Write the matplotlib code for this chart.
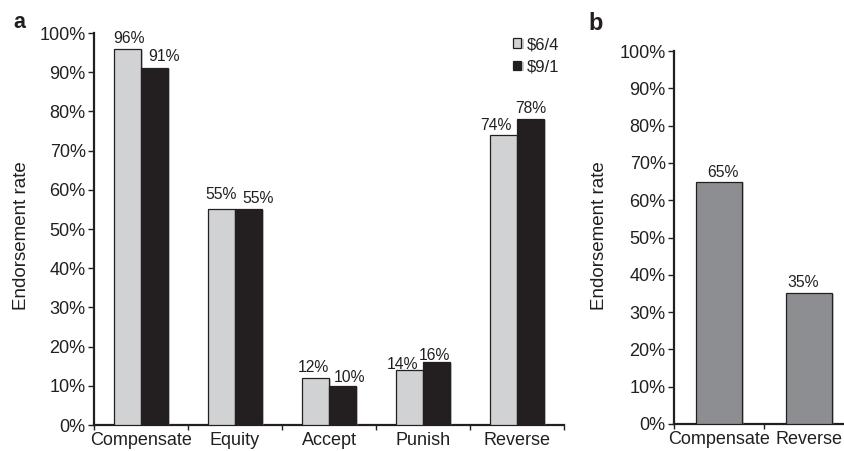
import matplotlib
matplotlib.use("Agg")
import matplotlib.pyplot as plt
import matplotlib.patheffects as pe
import numpy as np

plt.rcParams["font.family"] = ["Liberation Sans", "DejaVu Sans"]

# ---- data ----
strategies_a = ["Compensate", "Equity", "Accept", "Punish", "Reverse"]
split_64 = [96, 55, 12, 14, 74]   # $6/4 condition
split_91 = [91, 55, 10, 16, 78]   # $9/1 condition
series_names = ["$6/4", "$9/1"]

strategies_b = ["Compensate", "Reverse"]
forced_choice = [65, 35]

y_ticks = [0, 10, 20, 30, 40, 50, 60, 70, 80, 90, 100]
y_ticklabels = [f"{t}%" for t in y_ticks]

# ---- styling ----
INK = "#231f20"
LIGHT = "#d1d2d4"
DARK = "#231f20"
MID = "#8d8e91"

W, H = 845, 451
fig = plt.figure(figsize=(W / 100, H / 100), dpi=100)


def px_axes(left, top, right, bottom):
    return fig.add_axes([left / W, (H - bottom) / H, (right - left) / W, (bottom - top) / H])


shadow = [pe.SimplePatchShadow(offset=(1.6, -0.6), shadow_rgbFace="0.55", alpha=0.45), pe.Normal()]


def style_axes(ax, n_cat):
    for side in ("top", "right"):
        ax.spines[side].set_visible(False)
    for side in ("left", "bottom"):
        ax.spines[side].set_linewidth(1.6)
        ax.spines[side].set_color(INK)
    ax.set_ylim(0, 100)
    ax.set_xlim(-0.5, n_cat - 0.5)
    ax.set_yticks(y_ticks)
    ax.set_yticklabels(y_ticklabels)
    ax.tick_params(axis="y", direction="out", length=4.5, width=1.0, pad=1.5,
                   labelsize=13, colors=INK)
    ax.set_xticks(np.arange(n_cat))
    ax.set_xticklabels([])
    ax.tick_params(axis="x", which="major", length=0, pad=5, labelsize=13, colors=INK)
    ax.set_xticks(np.arange(n_cat + 1) - 0.5, minor=True)
    ax.tick_params(axis="x", which="minor", direction="out", length=3.5, width=1.0, colors=INK)
    ax.set_ylabel("")


def value_label(ax, x, h, text, dx, dy):
    ax.annotate(text, xy=(x, h), xytext=(dx * 0.72, dy * 0.72), textcoords="offset points",
                ha="center", va="baseline", fontsize=11.3, color=INK)


# ---- panel a ----
ax_a = px_axes(94, 33, 564, 425)
style_axes(ax_a, len(strategies_a))
ax_a.set_xticks(np.arange(len(strategies_a)))
ax_a.set_xticklabels(strategies_a)

x = np.arange(len(strategies_a))
bw = 0.287
bars_l = ax_a.bar(x - bw / 2, split_64, width=bw, color=LIGHT, edgecolor=INK, linewidth=0.9,
                  label=series_names[0].replace("$", r"\$"), zorder=3)
bars_d = ax_a.bar(x + bw / 2, split_91, width=bw, color=DARK, edgecolor=INK, linewidth=0.9,
                  label=series_names[1].replace("$", r"\$"), zorder=3)
for b in list(bars_l) + list(bars_d):
    b.set_path_effects(shadow)

nudge_l = [(1, 6), (0, 10), (-2, 6), (-7, 1.5), (-8, 5)]
nudge_d = [(10, 7), (10, 6), (7, 4), (-2, 2), (0, 6)]
for i in range(len(strategies_a)):
    value_label(ax_a, x[i] - bw / 2, split_64[i], f"{split_64[i]}%", *nudge_l[i])
    value_label(ax_a, x[i] + bw / 2, split_91[i], f"{split_91[i]}%", *nudge_d[i])

leg = ax_a.legend(loc="upper left", bbox_to_anchor=((513 - 94) / 470, (425 - 37) / 392),
                  frameon=False, fontsize=12, handlelength=0.5, handleheight=0.5,
                  handletextpad=0.35, labelspacing=0.45, borderpad=0, borderaxespad=0)
for t in leg.get_texts():
    t.set_color(INK)

fig.text(22 / W, (H - 236) / H, "Endorsement rate", rotation=90, ha="center", va="center",
         fontsize=13.5, color=INK)
fig.text(13 / W, (H - 28) / H, "a", fontsize=15.5, fontweight="bold", color=INK,
         ha="left", va="baseline")

# ---- panel b ----
ax_b = px_axes(674, 51, 854, 424)
style_axes(ax_b, len(strategies_b))
ax_b.set_xticks(np.arange(len(strategies_b)))
ax_b.set_xticklabels(strategies_b)

xb = np.arange(len(strategies_b))
bars_b = ax_b.bar(xb, forced_choice, width=0.511, color=MID, edgecolor=INK, linewidth=0.9, zorder=3)
for b in bars_b:
    b.set_path_effects(shadow)
nudge_b = [(4, 4.5), (-6, 6)]
for i in range(len(strategies_b)):
    value_label(ax_b, xb[i], forced_choice[i], f"{forced_choice[i]}%", *nudge_b[i])

fig.text(600 / W, (H - 236) / H, "Endorsement rate", rotation=90, ha="center", va="center",
         fontsize=13.5, color=INK)
fig.text(588 / W, (H - 30) / H, "b", fontsize=17, fontweight="bold", color=INK,
         ha="left", va="baseline")

fig.savefig("out.png", dpi=100)
